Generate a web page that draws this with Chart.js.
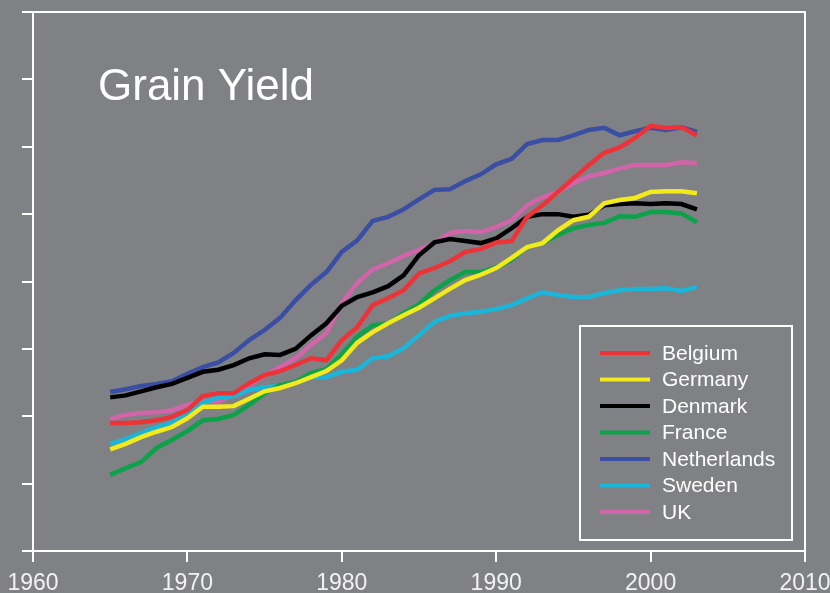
<!DOCTYPE html>
<html>
<head>
<meta charset="utf-8">
<script src="https://cdn.jsdelivr.net/npm/chart.js@4"></script>
<style>
  html, body { margin: 0; padding: 0; background: #808184; }
  #wrap { width: 830px; height: 593px; }
</style>
</head>
<body>
<div id="wrap"><canvas id="grainChart" width="830" height="593"></canvas></div>
<script>
// years and yields
const years = [1965, 1966, 1967, 1968, 1969, 1970, 1971, 1972, 1973, 1974,
  1975, 1976, 1977, 1978, 1979, 1980, 1981, 1982, 1983, 1984,
  1985, 1986, 1987, 1988, 1989, 1990, 1991, 1992, 1993, 1994,
  1995, 1996, 1997, 1998, 1999, 2000, 2001, 2002, 2003];

const belgium = [3.90, 3.90, 3.91, 3.94, 3.99, 4.09, 4.30, 4.34, 4.34, 4.49, 4.61, 4.67, 4.76, 4.86, 4.83, 5.13, 5.32, 5.65, 5.75, 5.87, 6.12, 6.20, 6.30, 6.44, 6.48, 6.58, 6.60, 6.96, 7.13, 7.33, 7.53, 7.73, 7.91, 7.99, 8.13, 8.31, 8.28, 8.29, 8.17];
const germany = [3.51, 3.59, 3.69, 3.77, 3.84, 3.97, 4.14, 4.14, 4.15, 4.26, 4.37, 4.42, 4.49, 4.58, 4.67, 4.83, 5.09, 5.25, 5.38, 5.50, 5.61, 5.75, 5.89, 6.02, 6.10, 6.20, 6.35, 6.51, 6.57, 6.76, 6.91, 6.96, 7.16, 7.21, 7.24, 7.33, 7.34, 7.34, 7.31];
const denmark = [4.28, 4.31, 4.37, 4.43, 4.48, 4.57, 4.66, 4.69, 4.76, 4.86, 4.92, 4.91, 5.00, 5.20, 5.38, 5.64, 5.77, 5.84, 5.93, 6.09, 6.39, 6.58, 6.63, 6.60, 6.57, 6.64, 6.79, 6.96, 7.00, 7.00, 6.96, 6.99, 7.13, 7.15, 7.16, 7.15, 7.16, 7.15, 7.07];
const france = [3.13, 3.23, 3.32, 3.53, 3.65, 3.78, 3.94, 3.96, 4.02, 4.17, 4.34, 4.46, 4.51, 4.64, 4.70, 4.92, 5.18, 5.35, 5.38, 5.53, 5.66, 5.87, 6.02, 6.14, 6.14, 6.21, 6.32, 6.51, 6.57, 6.69, 6.79, 6.84, 6.87, 6.97, 6.96, 7.03, 7.03, 7.01, 6.88];
const netherlands = [4.36, 4.40, 4.45, 4.48, 4.52, 4.63, 4.73, 4.80, 4.94, 5.13, 5.28, 5.46, 5.72, 5.95, 6.14, 6.44, 6.61, 6.90, 6.96, 7.07, 7.22, 7.36, 7.37, 7.49, 7.59, 7.74, 7.82, 8.04, 8.10, 8.10, 8.17, 8.25, 8.28, 8.17, 8.23, 8.28, 8.25, 8.29, 8.22];
const sweden = [3.59, 3.66, 3.75, 3.84, 3.90, 4.06, 4.20, 4.28, 4.30, 4.39, 4.43, 4.45, 4.51, 4.58, 4.58, 4.66, 4.69, 4.86, 4.89, 5.01, 5.20, 5.40, 5.49, 5.53, 5.55, 5.59, 5.65, 5.75, 5.84, 5.80, 5.77, 5.77, 5.83, 5.87, 5.89, 5.89, 5.90, 5.86, 5.92];
const uk = [3.96, 4.02, 4.05, 4.06, 4.09, 4.17, 4.23, 4.21, 4.33, 4.46, 4.60, 4.73, 4.86, 5.06, 5.23, 5.68, 5.98, 6.18, 6.27, 6.38, 6.47, 6.57, 6.72, 6.75, 6.73, 6.81, 6.91, 7.13, 7.25, 7.33, 7.46, 7.56, 7.61, 7.68, 7.73, 7.73, 7.73, 7.77, 7.76];

const countries = ['Belgium', 'Germany', 'Denmark', 'France', 'Netherlands', 'Sweden', 'UK'];
const colours = ['#EE3338', '#F2EA1C', '#000000', '#0BA24A', '#3A4FA4', '#1AB6DA', '#D264AA'];
const seriesList = [belgium, germany, denmark, france, netherlands, sweden, uk];

const xTicks = [1960, 1970, 1980, 1990, 2000, 2010];

function toPoints(values) {
  return values.map((v, i) => ({ x: years[i], y: v }));
}

// box round the plot, the title and the framed legend
const framePlugin = {
  id: 'frame',
  beforeDatasetsDraw(chart) {
    const ctx = chart.ctx;
    const ca = chart.chartArea;
    ctx.save();
    ctx.strokeStyle = '#ffffff';
    ctx.lineWidth = 2;
    ctx.beginPath();
    ctx.moveTo(ca.left, ca.top);
    ctx.lineTo(ca.right, ca.top);
    ctx.lineTo(ca.right, ca.bottom);
    ctx.stroke();

    ctx.fillStyle = '#ffffff';
    ctx.font = '44px "Liberation Sans", Arial, sans-serif';
    ctx.textBaseline = 'alphabetic';
    ctx.fillText('Grain Yield', ca.left + 65, ca.top + 88);
    ctx.restore();
  },
  afterDraw(chart) {
    const ctx = chart.ctx;
    const ca = chart.chartArea;
    const boxX = ca.right - 225;
    const boxY = ca.bottom - 225;
    ctx.save();
    ctx.strokeStyle = '#ffffff';
    ctx.lineWidth = 2;
    ctx.strokeRect(boxX, boxY, 212, 214);
    ctx.font = '21px "Liberation Sans", Arial, sans-serif';
    ctx.textBaseline = 'middle';
    chart.data.datasets.forEach((ds, i) => {
      const y = boxY + 27 + i * 26.5;
      ctx.strokeStyle = ds.borderColor;
      ctx.lineWidth = 4;
      ctx.beginPath();
      ctx.moveTo(boxX + 20, y);
      ctx.lineTo(boxX + 70, y);
      ctx.stroke();
      ctx.fillStyle = '#ffffff';
      ctx.fillText(ds.label, boxX + 82, y + 1);
    });
    ctx.restore();
  }
};

let grainCanvas = document.getElementById('grainChart');
let grainChart = new Chart(grainCanvas, {
  type: 'line',
  data: {
    datasets: countries.map((name, i) => ({
      label: name,
      data: toPoints(seriesList[i]),
      borderColor: colours[i],
      backgroundColor: colours[i],
      borderWidth: 4.5,
      pointRadius: 0,
      tension: 0,
      fill: false
    }))
  },
  options: {
    responsive: false,
    animation: false,
    layout: {
      padding: { top: 12, right: 25, left: 0, bottom: 0 }
    },
    plugins: {
      legend: { display: false },
      tooltip: { enabled: false }
    },
    scales: {
      x: {
        type: 'linear',
        min: 1960,
        max: 2010,
        afterBuildTicks: (scale) => {
          scale.ticks = xTicks.map(v => ({ value: v }));
        },
        afterFit: (scale) => {
          scale.height = 42;
          scale.paddingLeft = 0;
          scale.paddingRight = 0;
        },
        ticks: {
          color: '#f2f2f2',
          padding: 8,
          maxRotation: 0,
          font: { family: '"Liberation Sans Narrow", "Liberation Sans", Arial, sans-serif', size: 23 },
          callback: (v) => String(v)
        },
        grid: {
          drawOnChartArea: false,
          color: '#ffffff',
          lineWidth: 2,
          tickLength: 11
        },
        border: { color: '#ffffff', width: 2 }
      },
      y: {
        type: 'linear',
        min: 2,
        max: 10,
        ticks: { stepSize: 1, display: false },
        afterFit: (scale) => { scale.width = 33; },
        grid: {
          drawOnChartArea: false,
          color: '#ffffff',
          lineWidth: 2,
          tickLength: 11
        },
        border: { color: '#ffffff', width: 2 }
      }
    }
  },
  plugins: [framePlugin]
});
</script>
</body>
</html>
